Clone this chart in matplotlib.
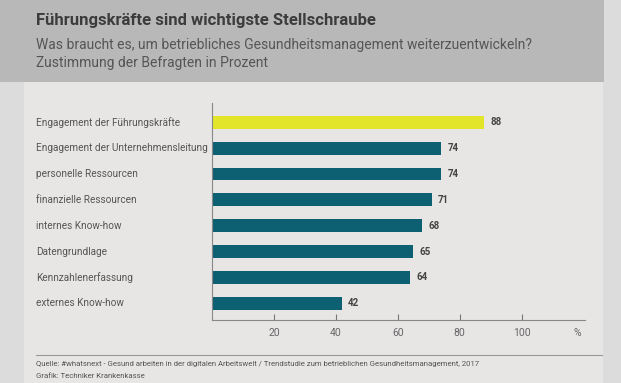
import matplotlib
matplotlib.use("Agg")
import matplotlib.pyplot as plt
from matplotlib.patches import Rectangle
from matplotlib.lines import Line2D
from matplotlib.transforms import blended_transform_factory

W, H = 621, 383

categories = [
    "Engagement der Führungskräfte",
    "Engagement der Unternehmensleitung",
    "personelle Ressourcen",
    "finanzielle Ressourcen",
    "internes Know-how",
    "Datengrundlage",
    "Kennzahlenerfassung",
    "externes Know-how",
]
values = [88, 74, 74, 71, 68, 65, 64, 42]
xticks = [20, 40, 60, 80, 100]

title = "Führungskräfte sind wichtigste Stellschraube"
subtitle = "Was braucht es, um betriebliches Gesundheitsmanagement weiterzuentwickeln?"
subtitle2 = "Zustimmung der Befragten in Prozent"
source = "Quelle: #whatsnext - Gesund arbeiten in der digitalen Arbeitswelt / Trendstudie zum betrieblichen Gesundheitsmanagement, 2017"
credit = "Grafik: Techniker Krankenkasse"

TEAL = "#0d5f72"
YELLOW = "#e2e52a"
TXT = "#555555"

plt.rcParams["font.family"] = ["Roboto", "DejaVu Sans"]

fig = plt.figure(figsize=(W / 100, H / 100), dpi=100)
fig.patch.set_facecolor("#dcdcdc")


def fx(px):
    return px / W


def fy(py):
    return 1 - py / H


# background panels
fig.patches.append(Rectangle((fx(24), 0), fx(603 - 24), fy(80), transform=fig.transFigure,
                             facecolor="#e8e6e5", edgecolor="none", zorder=-10))
fig.patches.append(Rectangle((0, fy(82)), fx(604), 82 / H, transform=fig.transFigure,
                             facecolor="#b8b8b8", edgecolor="none", zorder=-10))

fig.text(fx(36), fy(21), title, fontsize=12, fontweight="bold", color="#3c3c3c", va="center")
fig.text(fx(36), fy(45), subtitle, fontsize=10, color="#555555", va="center")
fig.text(fx(36), fy(63), subtitle2, fontsize=10, color="#555555", va="center")

ax = fig.add_axes([fx(212), fy(320), fx(585 - 212), (320 - 103) / H])
ax.set_zorder(5)
ax.set_facecolor("none")
y = list(range(len(categories)))
colors = [YELLOW] + [TEAL] * (len(categories) - 1)
ax.barh(y, values, height=0.5, color=colors)
for yi, v in zip(y, values):
    ax.text(v + 2, yi, str(v), va="center", ha="left", fontsize=7, fontweight="bold", color="#444444")
ax.set_ylim(7.65, -0.75)
ax.set_xlim(0, 120.5)
ax.set_yticks(y)
ax.set_yticklabels([])
lab_tr = blended_transform_factory(fig.transFigure, ax.transData)
for yi, c in zip(y, categories):
    ax.text(fx(36), yi, c, va="center", ha="left", fontsize=7.2, color=TXT, transform=lab_tr)
ax.set_xticks(xticks)
ax.set_xticklabels([str(t) for t in xticks], fontsize=7.5, color="#666666")
ax.tick_params(axis="x", direction="in", length=4, color="#777777", pad=6)
ax.tick_params(axis="y", length=0)
pct_tr = blended_transform_factory(ax.transData, fig.transFigure)
ax.text(118, fy(332.5), "%", fontsize=7.5, color="#666666", ha="center", va="center", transform=pct_tr)
for s in ["top", "right"]:
    ax.spines[s].set_visible(False)
for s in ["left", "bottom"]:
    ax.spines[s].set_color("#888888")
    ax.spines[s].set_linewidth(0.8)

fig.lines.append(Line2D([fx(36), fx(602)], [fy(355), fy(355)], transform=fig.transFigure,
                        color="#999999", linewidth=0.8))
fig.text(fx(36), fy(364), source, fontsize=5.6, color="#555555", va="center")
fig.text(fx(36), fy(376), credit, fontsize=5.6, color="#555555", va="center")

fig.savefig("out.png", dpi=100)
